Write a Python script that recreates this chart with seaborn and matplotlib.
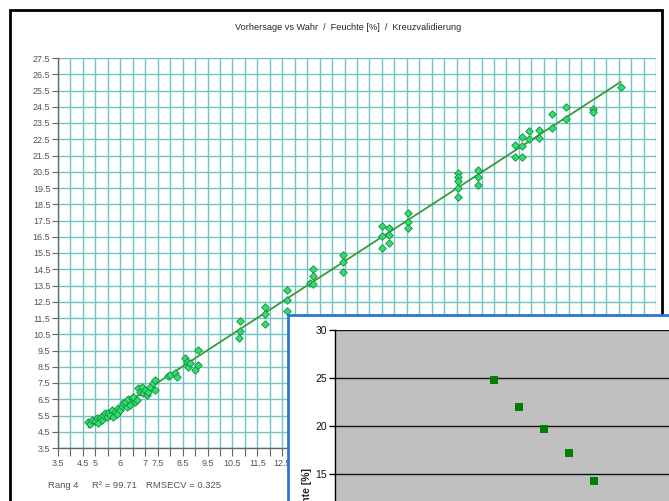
import matplotlib
matplotlib.use("Agg")
import matplotlib.pyplot as plt
from matplotlib.patches import Rectangle
import numpy as np
import pandas as pd
import seaborn as sns

# measured (true) vs predicted moisture, cross validation
true_vals = [
    4.72, 4.80, 4.85, 4.98, 5.05, 5.12, 5.19, 5.25, 5.32, 5.39, 5.45, 5.52, 5.59,
    5.65, 5.72, 5.79, 5.85, 5.92, 5.99, 6.05, 6.12, 6.19, 6.26, 6.32, 6.39, 6.46,
    6.52, 6.59, 6.66, 6.72, 6.79, 6.86, 6.92, 6.99, 7.06, 7.12, 7.19, 7.32, 7.39,
    7.39, 7.93, 7.99, 8.20, 8.26, 8.60, 8.66, 8.73, 8.80, 9.00, 9.13, 9.13,
    10.80, 10.80, 10.78, 11.81, 11.81, 11.81, 12.70, 12.70, 12.70,
    13.72, 13.72, 13.61, 13.75, 14.95, 14.95, 14.95,
    16.49, 16.49, 16.49, 16.79, 16.79, 16.79, 17.56, 17.56, 17.56,
    19.56, 19.56, 19.56, 19.56, 19.56, 20.37, 20.37, 20.37,
    21.84, 21.84, 22.11, 22.13, 22.13, 22.41, 22.41, 22.81, 22.81,
    23.34, 23.34, 23.87, 23.87, 24.98, 24.98, 26.09,
]
pred_vals = [
    5.12, 4.98, 5.22, 5.16, 5.33, 5.05, 5.33, 5.20, 5.53, 5.64, 5.40, 5.67, 5.53,
    5.85, 5.43, 5.73, 5.60, 5.94, 5.84, 6.10, 6.25, 6.35, 6.04, 6.50, 6.15, 6.56,
    6.66, 6.35, 6.45, 7.17, 6.96, 7.27, 6.87, 7.07, 6.76, 6.96, 7.27, 7.48, 7.68,
    7.07, 7.93, 7.99, 8.10, 7.89, 9.02, 8.81, 8.50, 8.71, 8.30, 8.61, 9.53,
    11.33, 10.72, 10.25, 12.20, 11.75, 11.11, 13.22, 12.61, 11.95,
    14.50, 14.10, 13.67, 13.59, 15.38, 14.93, 14.35,
    17.16, 16.55, 15.83, 17.06, 16.61, 16.10, 17.94, 17.43, 17.06,
    20.40, 20.20, 19.95, 19.48, 18.96, 20.61, 20.20, 19.68,
    22.15, 21.43, 22.61, 22.08, 21.43, 23.03, 22.52, 23.07, 22.56,
    24.03, 23.17, 24.46, 23.73, 24.34, 24.18, 25.70,
]
x_label_values = ["3.5", "4.5", "5", "6", "7", "7.5", "8.5", "9.5", "10.5",
                  "11.5", "12.5", "13.5", "14.5", "15.5", "16.5", "17.5", "18.5",
                  "19.5", "20.5", "21.5", "22.5", "23.5", "24.5", "25.5", "26.5",
                  "27.5"]
y_label_values = np.arange(3.5, 27.6, 1.0)

# overlaid second chart (partly visible)
inset_x = [1, 2, 3, 4, 5]
inset_y = [24.8, 22.0, 19.7, 17.2, 14.3]
inset_yticks = [15, 20, 25, 30]

title = "Vorhersage vs Wahr  /  Feuchte [%]  /  Kreuzvalidierung"
stats = ["Rang 4", "R\u00b2 = 99.71", "RMSECV = 0.325"]

sns.set_style("white")
plt.rcParams["font.family"] = ["Liberation Sans", "DejaVu Sans"]

W, H = 669, 501
fig = plt.figure(figsize=(W / 100, H / 100), dpi=100)


def fig_rect(x0, y0, x1, y1):
    """pixel box (top-left origin) -> figure fractions"""
    return [x0 / W, 1 - y1 / H, (x1 - x0) / W, (y1 - y0) / H]


# outer frame of the first chart
frame = Rectangle((10 / W, -0.2), 652 / W, 1.2 - 10 / H, transform=fig.transFigure,
                  fill=False, edgecolor="black", linewidth=2, zorder=-1)
fig.patches.append(frame)

ax = fig.add_axes(fig_rect(58, 58, 656, 448))
df = pd.DataFrame({"wahr": true_vals, "vorhersage": pred_vals})
sns.regplot(data=df, x="wahr", y="vorhersage", scatter=False, ci=None,
            truncate=True, color="#3a9a3a", line_kws={"linewidth": 1.3}, ax=ax)
sns.scatterplot(data=df, x="wahr", y="vorhersage", marker="D", s=15,
                color="#2ee070", edgecolor="#1a8a40", linewidth=0.6, zorder=3, ax=ax)

xt = np.arange(3.5, 27.51, 0.5)
ax.set_xticks(xt, [f"{v:g}" if f"{v:g}" in x_label_values else "" for v in xt])
ax.set_yticks(y_label_values, [f"{v:.1f}" for v in y_label_values])
ax.set_xlim(3.5, 27.5)
ax.set_ylim(3.5, 27.5)
ax.set_xlabel("")
ax.set_ylabel("")
ax.grid(True, color="#72c4c4", linewidth=1.0)
ax.set_axisbelow(True)
for side in ["top", "right"]:
    ax.spines[side].set_visible(False)
for side in ["left", "bottom"]:
    ax.spines[side].set_color("#666666")
    ax.spines[side].set_linewidth(1.0)
ax.tick_params(axis="y", direction="out", length=4, width=0.8, color="#666666",
               labelsize=6.5, labelcolor="#555555", pad=1.5, left=True)
ax.tick_params(axis="x", direction="out", length=6, width=0.8, color="#666666",
               labelsize=6.5, labelcolor="#555555", pad=2, bottom=True)

fig.text(348 / W, 1 - 28 / H, title, ha="center", va="center", fontsize=6.6)
for txt, px in zip(stats, [48, 92, 146]):
    fig.text(px / W, 1 - 485 / H, txt, ha="left", va="center", fontsize=6.8,
             color="#555555")

# second chart window on top
box = fig.add_axes(fig_rect(288, 315, 720, 600))
box.set_facecolor("white")
box.set_xticks([])
box.set_yticks([])
for sp in box.spines.values():
    sp.set_color("#2a78d2")
    sp.set_linewidth(2)

ax2 = fig.add_axes(fig_rect(335, 330, 800, 618))
ax2.set_facecolor("#c0c0c0")
sns.scatterplot(x=inset_x, y=inset_y, marker="s", s=40, color="#008000",
                edgecolor="#008000", linewidth=0, zorder=3, ax=ax2)
ax2.set_ylim(0, 30)
ax2.set_xlim(1 - (494 - 335) / 25, 1 + (800 - 494) / 25)
ax2.set_yticks(inset_yticks)
ax2.set_xticks([])
ax2.grid(True, axis="y", color="#111111", linewidth=1.0)
ax2.set_axisbelow(True)
for side in ["top", "right", "bottom"]:
    ax2.spines[side].set_visible(False)
ax2.spines["left"].set_color("black")
ax2.spines["left"].set_linewidth(1.0)
ax2.tick_params(axis="y", direction="out", length=4, width=1, color="black",
                labelsize=7.5, labelcolor="#111111", pad=2, left=True)
fig.text(307 / W, 1 - 468 / H, "Feuchte [%]", rotation=90, ha="center", va="top",
         fontsize=7.5, fontweight="bold")

fig.savefig("out.png", dpi=100)
